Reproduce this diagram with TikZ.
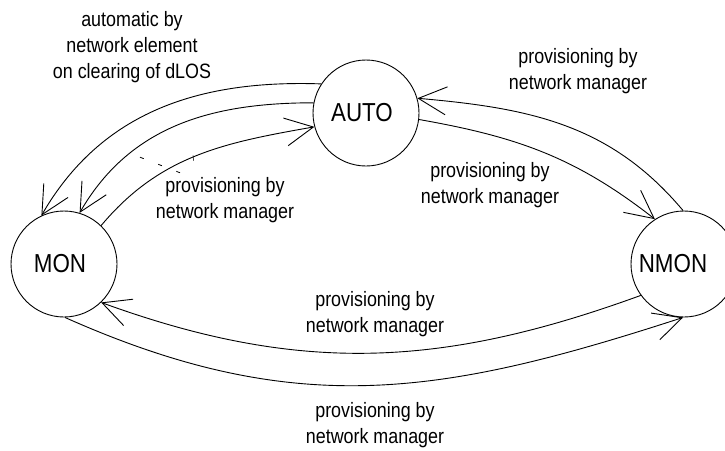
\documentclass[tikz,border=0pt]{standalone}
\usepackage{fontspec}
\usetikzlibrary{arrows.meta}
\newfontfamily\labfont{Liberation Sans}[FakeStretch=0.86]
\tikzset{
  state/.style={draw, circle, line width=0.9pt, minimum size=106pt, inner sep=0pt},
  statetext/.style={font=\labfont\fontsize{26}{30}\selectfont},
  lab/.style={font=\labfont\fontsize{20.8}{26}\selectfont, align=center, inner sep=0pt},
  trans/.style={line width=0.9pt, -{Straight Barb[length=28pt,width=28pt,line width=0.9pt]}}
}
\begin{document}
\begin{tikzpicture}[x=1pt,y=-1pt]
\useasboundingbox (0,0) rectangle (725,450);
% states
\node[state, label={[statetext, xshift=-4pt]center:AUTO}] (auto) at (366,113) {};
\node[state, label={[statetext, xshift=-4pt]center:MON}] (mon) at (64,264) {};
\node[state, label={[statetext, xshift=-11pt]center:NMON}] (nmon) at (684,264) {};
% transitions
\draw[trans] (auto.147) to[out=178, in=60] (mon.115);
\draw[trans] (auto.169) to[out=180, in=60] (mon.73);
\draw[trans] (mon.46) to[out=50, in=190] (auto.195);
\draw[trans] (nmon.91) to[out=130, in=-5] (auto.16);
\draw[trans] (auto.353) to[out=-10, in=142] (nmon.123);
\draw[trans] (nmon.216) to[out=200, in=-20] (mon.314);
\draw[trans] (mon.271) to[out=-24, in=198, looseness=1.05] (nmon.269);
% faint marks
\draw[line width=0.8pt, dash pattern=on 4pt off 15.5pt] (140,157.2) -- (180.1,172.8);
\draw[line width=0.6pt] (193,155.5) -- (193.5,160.5);
% labels
\node[lab] (l1) at (132,47) {automatic by\\network element\\on clearing of dLOS};
\node[lab] (l2) at (578,71.5) {provisioning by\\network manager};
\node[lab] (l3) at (490,185) {provisioning by\\network manager};
\node[lab] (l4) at (225,200) {provisioning by\\network manager};
\node[lab] (l5) at (375,314.5) {provisioning by\\network manager};
\node[lab] (l6) at (375,425) {provisioning by\\network manager};
\end{tikzpicture}
\end{document}
